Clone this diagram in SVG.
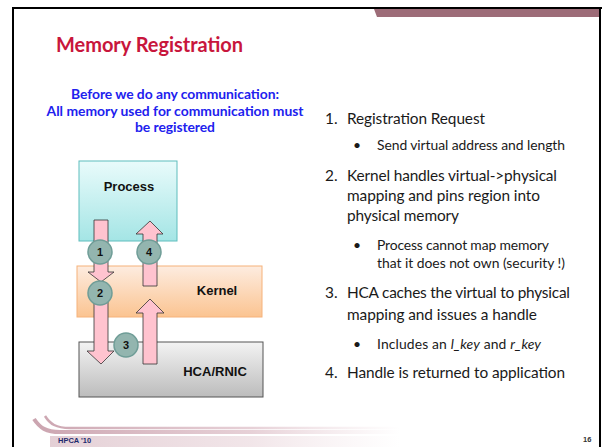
<svg xmlns="http://www.w3.org/2000/svg" width="602" height="447" viewBox="0 0 602 447">
  <style>
    .frame { stroke: #000; stroke-width: 2; fill: none; }
    .title { font-family: Lato, "Open Sans", sans-serif; font-weight: bold; font-size: 20px; fill: #c8163c; }
    .intro { font-family: Lato, "Open Sans", sans-serif; font-weight: bold; font-size: 13.9px; fill: #2121ee; text-anchor: middle; }
    .item { font-family: Lato, "Open Sans", sans-serif; font-size: 15.4px; fill: #1a1a1a; }
    .sub { font-family: Lato, "Open Sans", sans-serif; font-size: 13.9px; fill: #1a1a1a; }
    .box-label { font-family: "Liberation Sans", Arial, sans-serif; font-weight: bold; font-size: 13px; fill: #111; text-anchor: middle; }
    .block-arrow { fill: #ffc3cf; stroke: #333; stroke-width: 0.8; stroke-linejoin: miter; }
    .step { fill: #93b5af; stroke: #6f9d97; stroke-width: 1.5; }
    .step-num { font-family: "Liberation Sans", Arial, sans-serif; font-weight: bold; font-size: 11px; fill: #111; text-anchor: middle; }
    .foot { font-family: "Liberation Sans", Arial, sans-serif; font-weight: bold; font-size: 7.5px; }
  </style>
  <defs>
    <linearGradient id="gradProcess" x1="0" y1="0" x2="0" y2="1">
      <stop offset="0" stop-color="#e9fbfb"/>
      <stop offset="1" stop-color="#a4e5e5"/>
    </linearGradient>
    <linearGradient id="gradKernel" x1="0" y1="0" x2="0" y2="1">
      <stop offset="0" stop-color="#fdece0"/>
      <stop offset="1" stop-color="#fbc491"/>
    </linearGradient>
    <linearGradient id="gradHca" x1="0" y1="0" x2="0" y2="1">
      <stop offset="0" stop-color="#f3f3f3"/>
      <stop offset="1" stop-color="#bcbcbc"/>
    </linearGradient>
    <linearGradient id="footFade" gradientUnits="userSpaceOnUse" x1="30" y1="0" x2="400" y2="0">
      <stop offset="0" stop-color="#b98594" stop-opacity="0.75"/>
      <stop offset="0.6" stop-color="#c998a6" stop-opacity="0.45"/>
      <stop offset="1" stop-color="#d8b0bb" stop-opacity="0"/>
    </linearGradient>
  </defs>

  <!-- slide frame and header tab -->
  <rect x="0" y="0" width="602" height="447" fill="#fff"/>
  <polygon points="374,9 601,9 601,17 377,17" fill="#9d6c78"/>
  <line class="frame" x1="12" y1="8" x2="602" y2="8"/>
  <line class="frame" x1="13" y1="7" x2="13" y2="447"/>
  <line class="frame" x1="600" y1="7" x2="600" y2="447"/>

  <!-- footer swoosh -->
  <g id="footer">
    <path d="M34 419 C 40 428, 46 432, 60 432 H 400" fill="none" stroke="url(#footFade)" stroke-width="4"/>
    <path d="M45 416 C 50 424, 56 428, 70 428 H 400" fill="none" stroke="url(#footFade)" stroke-width="2.5"/>
    <rect x="50" y="436" width="350" height="11" fill="url(#footFade)" opacity="0.55"/>
    <text class="foot" x="58" y="443" fill="#1f2a6e">HPCA '10</text>
    <text class="foot" x="583" y="442" fill="#333">16</text>
  </g>

  <!-- heading -->
  <text class="title" x="56" y="52" textLength="187">Memory Registration</text>
  <g id="intro">
    <text class="intro" x="175" y="99" textLength="208">Before we do any communication:</text>
    <text class="intro" x="175" y="115.5" textLength="257">All memory used for communication must</text>
    <text class="intro" x="175" y="131.5" textLength="80">be registered</text>
  </g>

  <!-- layers -->
  <g id="process">
    <rect x="79" y="161" width="98" height="80" fill="url(#gradProcess)" stroke="#5fbdbd" stroke-width="1"/>
    <text class="box-label" x="129" y="191">Process</text>
  </g>
  <g id="kernel">
    <rect x="77" y="266" width="185" height="51" fill="url(#gradKernel)" stroke="#f6b27a" stroke-width="1"/>
    <text class="box-label" x="217" y="295">Kernel</text>
  </g>
  <g id="hca">
    <rect x="79" y="342" width="184" height="55" fill="url(#gradHca)" stroke="#555" stroke-width="1"/>
    <text class="box-label" x="215" y="376">HCA/RNIC</text>
  </g>

  <!-- numbered steps between layers -->
  <g id="connectors">
    <!-- 1: process to kernel -->
    <polygon class="block-arrow" points="94,220 108,220 108,272 114,272 101,282 88,272 94,272"/>
    <!-- 2: kernel to HCA -->
    <polygon class="block-arrow" points="94,285 108,285 108,351 114,351 101,364 87,351 94,351"/>
    <!-- 3: HCA back to kernel -->
    <polygon class="block-arrow" points="143,364 157,364 157,313 164,313 150,299 136,313 143,313"/>
    <!-- 4: kernel back to process -->
    <polygon class="block-arrow" points="143,286 157,286 157,234 163,234 150,221 136,234 143,234"/>

    <circle class="step" cx="100" cy="252" r="12"/>
    <text class="step-num" x="100" y="256">1</text>
    <circle class="step" cx="149" cy="252" r="12"/>
    <text class="step-num" x="149" y="256">4</text>
    <circle class="step" cx="100" cy="293" r="12"/>
    <text class="step-num" x="100" y="297">2</text>
    <circle class="step" cx="126" cy="345" r="12"/>
    <text class="step-num" x="126" y="349">3</text>
  </g>

  <!-- step descriptions -->
  <g id="steps">
    <text class="item" x="325" y="123.5">1.</text>
    <text class="item" x="347" y="123.5" textLength="138">Registration Request</text>
    <text class="sub" x="353" y="150">•</text>
    <text class="sub" x="377" y="150" textLength="188">Send virtual address and length</text>

    <text class="item" x="325" y="181">2.</text>
    <text class="item" x="347" y="181" textLength="210">Kernel handles virtual-&gt;physical</text>
    <text class="item" x="347" y="201" textLength="193">mapping and pins region into</text>
    <text class="item" x="347" y="221" textLength="112">physical memory</text>
    <text class="sub" x="353" y="250">•</text>
    <text class="sub" x="377" y="250" textLength="172">Process cannot map memory</text>
    <text class="sub" x="377" y="268" textLength="188">that it does not own (security !)</text>

    <text class="item" x="325" y="298">3.</text>
    <text class="item" x="347" y="298" textLength="223">HCA caches the virtual to physical</text>
    <text class="item" x="347" y="320" textLength="190">mapping and issues a handle</text>
    <text class="sub" x="353" y="349">•</text>
    <text class="sub" x="377" y="349" textLength="164">Includes an <tspan font-style="italic">l_key</tspan> and <tspan font-style="italic">r_key</tspan></text>

    <text class="item" x="325" y="378">4.</text>
    <text class="item" x="347" y="378" textLength="218">Handle is returned to application</text>
  </g>
</svg>
